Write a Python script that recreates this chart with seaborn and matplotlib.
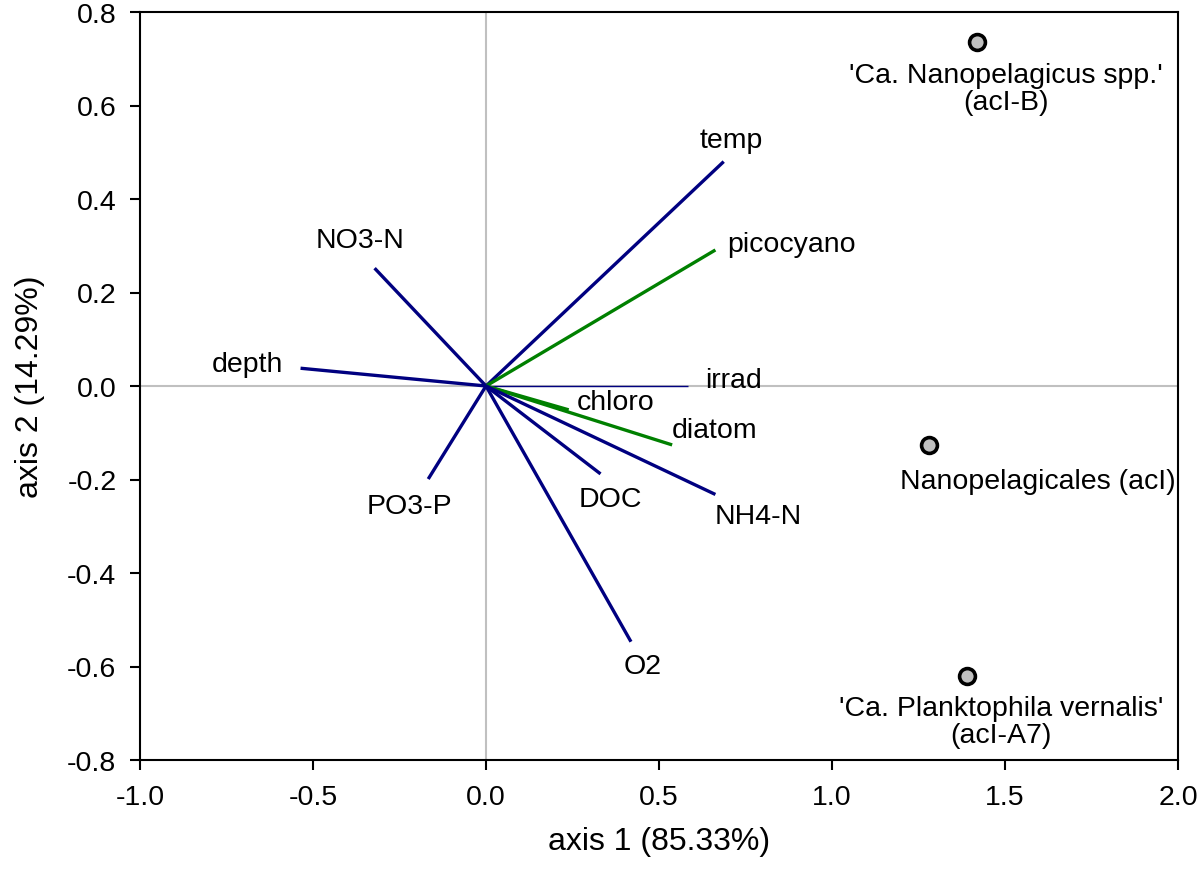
import numpy as np
import matplotlib
matplotlib.use('Agg')
import matplotlib.pyplot as plt
import seaborn as sns
import pandas as pd

# environmental / group vectors (biplot arrows)
var_names = ['temp', 'picocyano', 'NO3-N', 'depth', 'irrad', 'chloro',
             'diatom', 'DOC', 'NH4-N', 'PO3-P', 'O2']
var_x = [0.687, 0.663, -0.322, -0.536, 0.585, 0.239, 0.538, 0.331, 0.663, -0.167, 0.419]
var_y = [0.480, 0.291, 0.252, 0.038, 0.0, -0.051, -0.126, -0.188, -0.232, -0.199, -0.547]
var_group = ['env', 'bio', 'env', 'env', 'env', 'bio', 'bio', 'env', 'env', 'env', 'env']

# taxa scores
taxa_names = ["'Ca. Nanopelagicus spp.'\n(acI-B)",
              "Nanopelagicales (acI)",
              "'Ca. Planktophila vernalis'\n(acI-A7)"]
taxa_x = [1.419, 1.280, 1.390]
taxa_y = [0.736, -0.126, -0.620]

x_ticks = [-1.0, -0.5, 0.0, 0.5, 1.0, 1.5, 2.0]
y_ticks = [-0.8, -0.6, -0.4, -0.2, 0.0, 0.2, 0.4, 0.6, 0.8]

sns.set_style('ticks')
plt.rcParams['font.family'] = ['Liberation Sans', 'DejaVu Sans']
plt.rcParams['text.color'] = 'black'
plt.rcParams['axes.labelcolor'] = 'black'
plt.rcParams['xtick.color'] = 'black'
plt.rcParams['ytick.color'] = 'black'

fig = plt.figure(figsize=(11.98, 8.87), dpi=100)
ax = fig.add_axes([140 / 1198, 1 - 761 / 887, 1038 / 1198, 748 / 887])

ax.axhline(0, color='#c0c0c0', lw=1.5, zorder=1)
ax.axvline(0, color='#c0c0c0', lw=1.5, zorder=1)

colors = {'env': '#000080', 'bio': '#008000'}
# label offsets in pixels (dx, dy up), alignment
label_style = {
    'temp': (8, 22, 'center'),
    'picocyano': (12, 6, 'left'),
    'NO3-N': (-15, 28, 'center'),
    'depth': (-17, 4, 'right'),
    'irrad': (17, 6, 'left'),
    'chloro': (8, 8, 'left'),
    'diatom': (0, 15, 'left'),
    'DOC': (10, -25, 'center'),
    'NH4-N': (43, -22, 'center'),
    'PO3-P': (-19, -27, 'center'),
    'O2': (12, -24, 'center'),
}
for name, x, y, g in zip(var_names, var_x, var_y, var_group):
    lw = 1.0 if name == 'irrad' else 2.4
    ax.plot([0, x], [0, y], color=colors[g], lw=lw, solid_capstyle='butt', zorder=2)
    dx, dy, ha = label_style[name]
    ax.annotate(name, (x, y), xytext=(dx * 0.72, dy * 0.72), textcoords='offset points',
                ha=ha, va='center', fontsize=20.5, color='black')

df_taxa = pd.DataFrame({'x': taxa_x, 'y': taxa_y, 'name': taxa_names})
sns.scatterplot(data=df_taxa, x='x', y='y', ax=ax, s=130, color='#c0c0c0',
                edgecolor='black', linewidth=2.6, zorder=3)
taxa_offsets = [(29, -47), (109, -36), (34, -46)]
for (nm, x, y), (dx, dy) in zip(zip(taxa_names, taxa_x, taxa_y), taxa_offsets):
    ax.annotate(nm, (x, y), xytext=(dx * 0.72, dy * 0.72), textcoords='offset points',
                ha='center', va='center', fontsize=20.5, linespacing=1.05,
                multialignment='center', color='black')

ax.set_xlim(-1.0, 2.0)
ax.set_ylim(-0.8, 0.8)
ax.set_xticks(x_ticks)
ax.set_yticks(y_ticks)
ax.set_xticklabels([f'{v:.1f}' for v in x_ticks])
ax.set_yticklabels([f'{v:.1f}' for v in y_ticks])
ax.tick_params(direction='out', length=7, width=1.5, labelsize=20.5, pad=10,
               top=False, right=False)
for sp in ax.spines.values():
    sp.set_linewidth(1.5)
    sp.set_color('black')
ax.set_xlabel('axis 1 (85.33%)', fontsize=23, labelpad=12)
ax.set_ylabel('axis 2 (14.29%)', fontsize=23, labelpad=16)

fig.savefig('out.png', dpi=100)
